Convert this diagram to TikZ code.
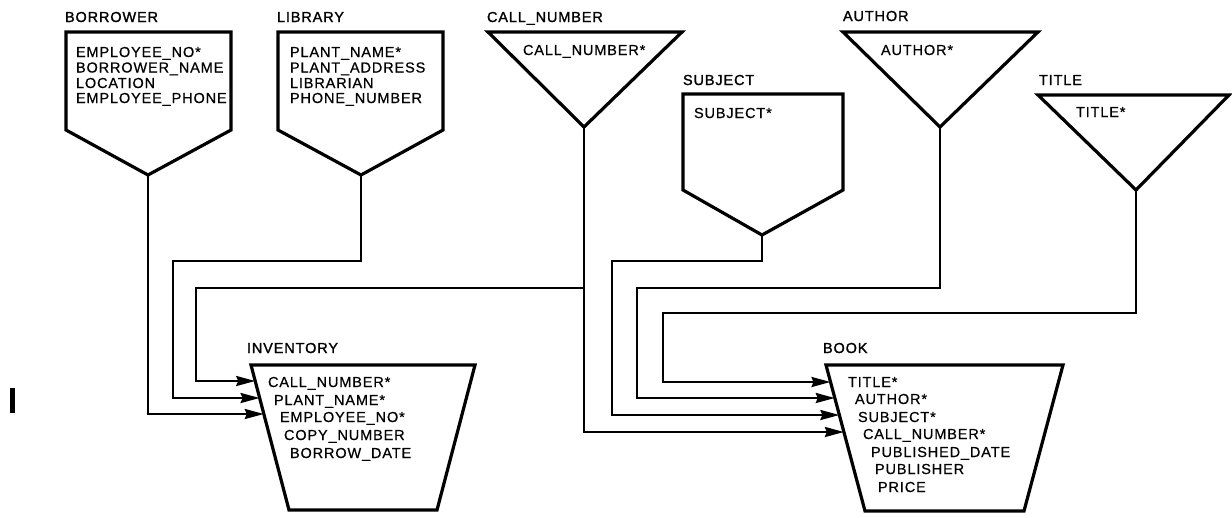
\documentclass[tikz,border=0pt]{standalone}
\usepackage{fontspec}
\setmainfont[LetterSpace=6,FakeBold=0.6]{Liberation Sans}
\newfontfamily\headfont[LetterSpace=6,FakeBold=1.4]{Liberation Sans}
\usetikzlibrary{arrows.meta}
\begin{document}
\begin{tikzpicture}[x=1pt,y=-1pt,
  font=\fontsize{14.5}{17}\selectfont,
  entity/.style={line width=3.2pt, line join=miter},
  link/.style={line width=2.4pt},
  feed/.style={link, -{Stealth[length=19pt,width=10pt,inset=2pt]}},
  lbl/.style={anchor=base west, inner sep=0pt, outer sep=0pt},
  head/.style={lbl, font=\headfont\fontsize{14.5}{17}\selectfont}]
\useasboundingbox (0,0) rectangle (1232,517);

% ---------- BORROWER ----------
\node[head] (borrower) at (65,22) {BORROWER};
\draw[entity] (66,32) -- (231,32) -- (231,130) -- (148,175) -- (66,130) -- cycle;
\coordinate (borrower-tip) at (148,175);
\node[lbl] (borrower-a1) at (76,57)   {EMPLOYEE\_NO*};
\node[lbl] (borrower-a2) at (76,72.5) {BORROWER\_NAME};
\node[lbl] (borrower-a3) at (76,88)   {LOCATION};
\node[lbl] (borrower-a4) at (76,103)  {EMPLOYEE\_PHONE};

% ---------- LIBRARY ----------
\node[head] (library) at (277,22) {LIBRARY};
\draw[entity] (278,32) -- (443,32) -- (443,130) -- (361,175) -- (278,130) -- cycle;
\coordinate (library-tip) at (361,175);
\node[lbl] (library-a1) at (290,57)   {PLANT\_NAME*};
\node[lbl] (library-a2) at (290,72.5) {PLANT\_ADDRESS};
\node[lbl] (library-a3) at (290,88)   {LIBRARIAN};
\node[lbl] (library-a4) at (290,103)  {PHONE\_NUMBER};

% ---------- CALL_NUMBER ----------
\node[head] (callno) at (487,22) {CALL\_NUMBER};
\draw[entity] (488,32) -- (682,32) -- (584,127) -- cycle;
\coordinate (callno-tip) at (584,127);
\node[lbl] (callno-a1) at (523,55) {CALL\_NUMBER*};

% ---------- SUBJECT ----------
\node[head] (subject) at (683,85) {SUBJECT};
\draw[entity] (683,94) -- (843,94) -- (843,190) -- (762,235) -- (683,190) -- cycle;
\coordinate (subject-tip) at (762,235);
\node[lbl] (subject-a1) at (694,118) {SUBJECT*};

% ---------- AUTHOR ----------
\node[head] (author) at (843,21) {AUTHOR};
\draw[entity] (843,32) -- (1038,32) -- (940,127) -- cycle;
\coordinate (author-tip) at (940,127);
\node[lbl] (author-a1) at (881,55) {AUTHOR*};

% ---------- TITLE ----------
\node[head] (title) at (1039,85) {TITLE};
\draw[entity] (1038,95) -- (1229,95) -- (1136,190) -- cycle;
\coordinate (title-tip) at (1136,190);
\node[lbl] (title-a1) at (1076,117) {TITLE*};

% ---------- INVENTORY ----------
\node[head] (inventory) at (247,353) {INVENTORY};
\draw[entity] (251,365) -- (475,365) -- (437,510) -- (289,510) -- cycle;
\node[lbl] (inventory-a1) at (268,387) {CALL\_NUMBER*};
\node[lbl] (inventory-a2) at (274,405) {PLANT\_NAME*};
\node[lbl] (inventory-a3) at (280,422) {EMPLOYEE\_NO*};
\node[lbl] (inventory-a4) at (284,440) {COPY\_NUMBER};
\node[lbl] (inventory-a5) at (290,458) {BORROW\_DATE};
\coordinate (inv-in1) at (255.2,381);
\coordinate (inv-in2) at (259.6,398);
\coordinate (inv-in3) at (263.8,414);

% ---------- BOOK ----------
\node[head] (book) at (823,353) {BOOK};
\draw[entity] (826,365) -- (1063,365) -- (1024,511) -- (865,511) -- cycle;
\node[lbl] (book-a1) at (848,387) {TITLE*};
\node[lbl] (book-a2) at (855,404) {AUTHOR*};
\node[lbl] (book-a3) at (858,422) {SUBJECT*};
\node[lbl] (book-a4) at (863,439) {CALL\_NUMBER*};
\node[lbl] (book-a5) at (871,457) {PUBLISHED\_DATE};
\node[lbl] (book-a6) at (875,474) {PUBLISHER};
\node[lbl] (book-a7) at (878,492) {PRICE};
\coordinate (book-in1) at (830.5,382);
\coordinate (book-in2) at (834.8,398);
\coordinate (book-in3) at (839.4,415);
\coordinate (book-in4) at (843.9,432);

% ---------- bends of the connectors ----------
\coordinate (library-bend) at (173,261);
\coordinate (callno-bend)  at (196,288);
\coordinate (subject-bend) at (612,261);
\coordinate (author-bend)  at (637,288);
\coordinate (title-bend)   at (663,313);

% ---------- connectors ----------
\draw[feed] (borrower-tip) |- (inv-in3);
\draw[feed] (library-tip) |- (library-bend) |- (inv-in2);
\draw[feed] (callno-tip) |- (callno-bend) |- (inv-in1);
\draw[feed] (callno-tip) |- (book-in4);
\draw[feed] (subject-tip) |- (subject-bend) |- (book-in3);
\draw[feed] (author-tip) |- (author-bend) |- (book-in2);
\draw[feed] (title-tip) |- (title-bend) |- (book-in1);

% margin mark
\fill (10,388) rectangle (14.5,413);
\end{tikzpicture}
\end{document}
